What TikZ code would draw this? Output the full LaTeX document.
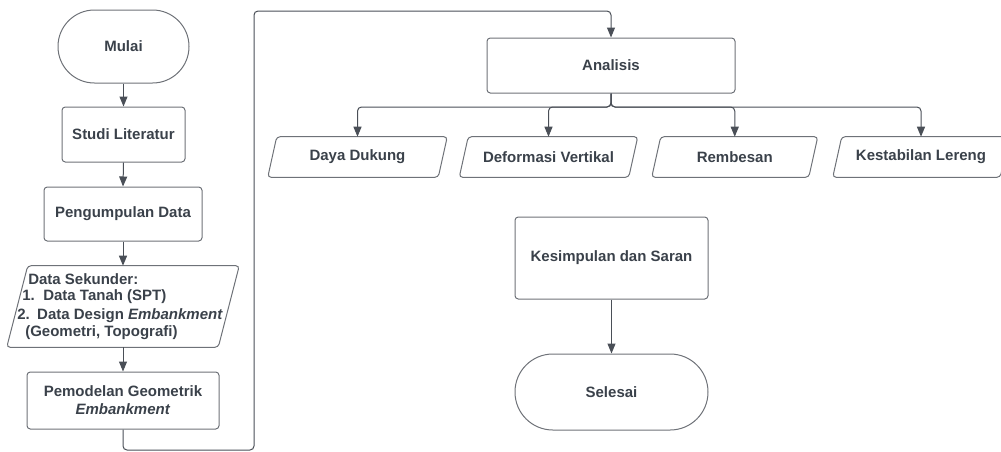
\documentclass[tikz,border=0pt]{standalone}
\usepackage{fontspec}
\setmainfont{Liberation Sans}
\usetikzlibrary{arrows.meta}
\definecolor{txt}{HTML}{3A414A}
\definecolor{bord}{HTML}{6E7278}
\definecolor{conncol}{HTML}{4A4F57}
\newcommand\myparal[2]{\draw[bord, line width=0.75pt, rounded corners=2.5pt] ([xshift=#2]#1.north west) -- ([xshift=#2]#1.north east) -- ([xshift=-#2]#1.south east) -- ([xshift=-#2]#1.south west) -- cycle;}
\begin{document}
\begin{tikzpicture}[x=0.75pt,y=-0.75pt,
  lbl/.style={text=txt, font=\fontsize{11.25}{13.5}\selectfont\bfseries, align=center},
  boxr/.style={lbl, draw=bord, line width=0.75pt, rounded corners=2.5pt, inner sep=0pt},
  paraBody/.style={lbl, inner sep=0pt, minimum height=30pt},
  dsline/.style={lbl, anchor=west, inner sep=0pt},
  conn/.style={draw=conncol, line width=0.75pt, rounded corners=3pt, -{Triangle[width=6pt,length=7.5pt]}}
]
\useasboundingbox (0,0) rectangle (1001,451);
\clip (0,0) rectangle (1001,451);
% left column
\node[boxr, rounded corners=27.3pt, minimum width=98.25pt, minimum height=54.75pt] (mulai) at (123.5,46.5) {Mulai};
\node[boxr, minimum width=92.25pt, minimum height=41.25pt] (studi) at (123.5,134.5) {Studi Literatur};
\node[boxr, minimum width=118.5pt, minimum height=40.5pt] (peng) at (123,214) {Pengumpulan Data};
\node[inner sep=0pt, minimum width=158.25pt, minimum height=60.75pt] (ds) at (123,306.5) {};
\myparal{ds}{7.875pt}
\node[dsline] (ds1) at (28,279) {Data Sekunder:};
\node[dsline] (ds2) at (22,297) {1.\hspace{6.4pt}Data Tanah (SPT)};
\node[dsline] (ds3) at (17,316) {2.\hspace{5.6pt}Data Design \textit{Embankment}};
\node[dsline] (ds4) at (25,333) {(Geometri, Topografi)};
\node[boxr, minimum width=144pt, minimum height=42.75pt] (pem) at (123,400.5) {Pemodelan Geometrik\\\textit{Embankment}};
% right part
\node[boxr, minimum width=186pt, minimum height=41.25pt] (ana) at (611,65.5) {Analisis};
\node[paraBody, minimum width=127.5pt] (dd) at (357.5,157) {Daya Dukung};
\myparal{dd}{3.375pt}
\node[paraBody, minimum width=126.75pt] (dv) at (548.5,157) {Deformasi Vertikal};
\myparal{dv}{3.375pt}
\node[paraBody, minimum width=117.4pt] (rem) at (734.75,157) {Rembesan};
\myparal{rem}{3.375pt}
\node[paraBody, minimum width=125.25pt] (kes) at (921,157) {Kestabilan Lereng};
\myparal{kes}{3.375pt}
\node[boxr, minimum width=144.75pt, minimum height=61.5pt] (kesim) at (611.5,258) {Kesimpulan dan Saran};
\node[boxr, rounded corners=28.4pt, minimum width=144.75pt, minimum height=57pt] (sel) at (611.5,392) {Selesai};
% connectors
\draw[conn] (mulai.south) -- (studi.north);
\draw[conn] (studi.south) -- (peng.north);
\draw[conn] (peng.south) -- (ds.north);
\draw[conn] (ds.south) -- (pem.north);
\coordinate (c1) at (254,450);
\coordinate (c2) at (254,11);
\draw[conn] (pem.south) |- (c1) -- (c2) -| (ana.north);
\coordinate (br) at (611,107);
\draw[conn] (ana.south) -- (br) -| (dd.north);
\draw[conn] (ana.south) -- (br) -| (dv.north);
\draw[conn] (ana.south) -- (br) -| (rem.north);
\draw[conn] (ana.south) -- (br) -| (kes.north);
\draw[conn] (kesim.south) -- (sel.north);
\end{tikzpicture}
\end{document}
